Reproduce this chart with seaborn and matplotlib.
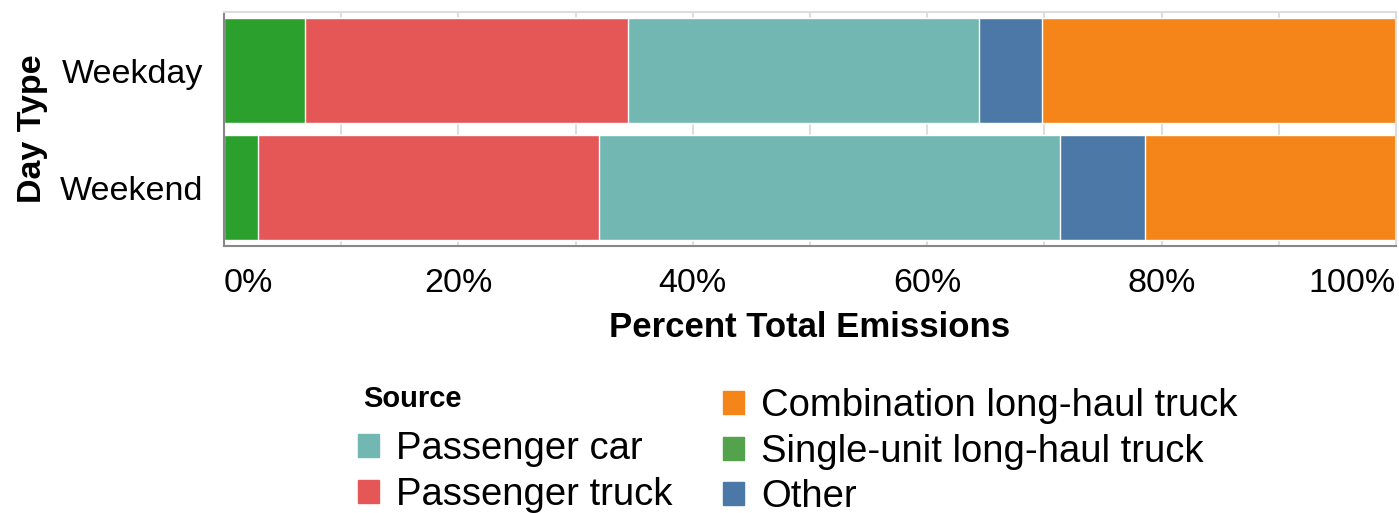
import numpy as np
import pandas as pd
import matplotlib
matplotlib.use("Agg")
import matplotlib.pyplot as plt
import seaborn as sns
from matplotlib.patches import Patch

# Daten (Prozent der Gesamtemissionen, von links nach rechts gestapelt)
days = ["Weekday", "Weekend"]
sources = ["Single-unit long-haul truck", "Passenger truck", "Passenger car",
           "Other", "Combination long-haul truck"]
single_unit = [6.9, 2.9]
passenger_truck = [27.6, 29.1]
passenger_car = [29.9, 39.3]
other = [5.4, 7.3]
combination = [30.2, 21.4]

colors = {
    "Passenger car": "#72b7b2",
    "Passenger truck": "#e45756",
    "Combination long-haul truck": "#f58518",
    "Single-unit long-haul truck": "#2ca02c",
    "Other": "#4c78a8",
}
legend_colors = dict(colors, **{"Single-unit long-haul truck": "#54a24b"})

sns.set_style("white")
plt.rcParams["font.family"] = ["Liberation Sans", "DejaVu Sans"]
plt.rcParams["text.color"] = "black"
plt.rcParams["axes.labelcolor"] = "black"
plt.rcParams["xtick.labelcolor"] = "black"
plt.rcParams["ytick.labelcolor"] = "black"

df = pd.DataFrame({
    "Day Type": days,
    "Single-unit long-haul truck": single_unit,
    "Passenger truck": passenger_truck,
    "Passenger car": passenger_car,
    "Other": other,
    "Combination long-haul truck": combination,
})
cum = df[sources].cumsum(axis=1)
cum["Day Type"] = days

fig = plt.figure(figsize=(13.99, 5.13), dpi=100)
ax = fig.add_axes([224 / 1399, 1 - 246 / 513, 1172 / 1399, 234 / 513])

# Stapel: laengste kumulierte Balken zuerst, danach drueber zeichnen
for src in reversed(sources):
    sns.barplot(data=cum, x=src, y="Day Type", color=colors[src], orient="h",
                width=0.9, saturation=1, ax=ax, zorder=2)

ax.set_xlim(0, 100)
ax.set_ylim(1.5, -0.5)

ticks = np.arange(0, 101, 10)
ax.set_xticks(ticks)
ax.set_xticklabels([f"{t}%" if t % 20 == 0 else "" for t in ticks], fontsize=24.5)
labels = ax.get_xticklabels()
labels[0].set_ha("left")
labels[-1].set_ha("right")
ax.tick_params(axis="x", length=8.6, width=1.5, color="#888888", pad=7)
ax.tick_params(axis="y", length=7.2, width=1.5, color="#888888", pad=8, labelsize=24.5)
ax.xaxis.grid(True, color="#dddddd", linewidth=1.5)
ax.set_axisbelow(True)

for side in ["left", "bottom"]:
    ax.spines[side].set_color("#888888")
    ax.spines[side].set_linewidth(1.5)
for side in ["top", "right"]:
    ax.spines[side].set_color("#dddddd")
    ax.spines[side].set_linewidth(1.5)

ax.set_xlabel("Percent Total Emissions", fontsize=25, fontweight="bold")
ax.set_ylabel("Day Type", fontsize=24.5, fontweight="bold")
ax.xaxis.set_label_coords(0.5, -0.276)
ax.yaxis.set_label_coords(-0.150, 0.5)

# Legende unten, zwei Spalten
fig.text(363 / 1399, 1 - 407 / 513, "Source", fontsize=21, fontweight="bold", va="baseline")

leg_kw = dict(frameon=False, borderpad=0, borderaxespad=0, fontsize=27.5,
              handlelength=0.55, handleheight=0.55, handletextpad=0.45,
              labelspacing=0.25, loc="upper left")
col1 = ["Passenger car", "Passenger truck"]
col2 = ["Combination long-haul truck", "Single-unit long-haul truck", "Other"]
fig.legend([Patch(color=legend_colors[s]) for s in col1], col1,
           bbox_to_anchor=(358 / 1399, 1 - 431 / 513), **leg_kw)
fig.legend([Patch(color=legend_colors[s]) for s in col2], col2,
           bbox_to_anchor=(723 / 1399, 1 - 388 / 513), **leg_kw)

fig.savefig("out.png", dpi=100)
